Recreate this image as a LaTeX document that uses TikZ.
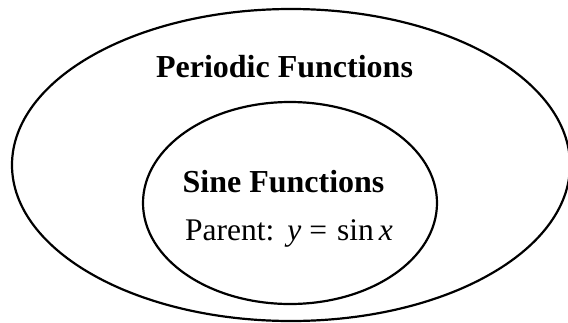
\documentclass[tikz,border=0pt]{standalone}
\usepackage{fontspec}
\setmainfont{Liberation Serif}
\usetikzlibrary{shapes.geometric}
\begin{document}
\begin{tikzpicture}[x=1pt,y=-1pt,
  setbox/.style={draw=black, line width=2.2pt, ellipse, inner sep=0pt},
  title/.style={font=\fontsize{32}{38}\selectfont\bfseries, inner sep=0pt, anchor=base},
  body/.style={font=\fontsize{31.5}{36}\selectfont, inner sep=0pt, anchor=base west}]
\useasboundingbox (0,0) rectangle (568,322);
\node[setbox, minimum width=558pt, minimum height=312pt] (outer) at (291,165) {};
\node[setbox, minimum width=294pt, minimum height=202pt] (inner) at (290,203) {};
\node[title] (periodic) at (284.5,77) {Periodic Functions};
\node[title] (sine) at (283.5,192) {Sine Functions};
\node[body] (parent) at (185,240) {Parent:\hspace{13pt}\textit{y}\hspace{8pt}=\hspace{10pt}sin\hspace{5pt}\textit{x}};
\end{tikzpicture}
\end{document}
